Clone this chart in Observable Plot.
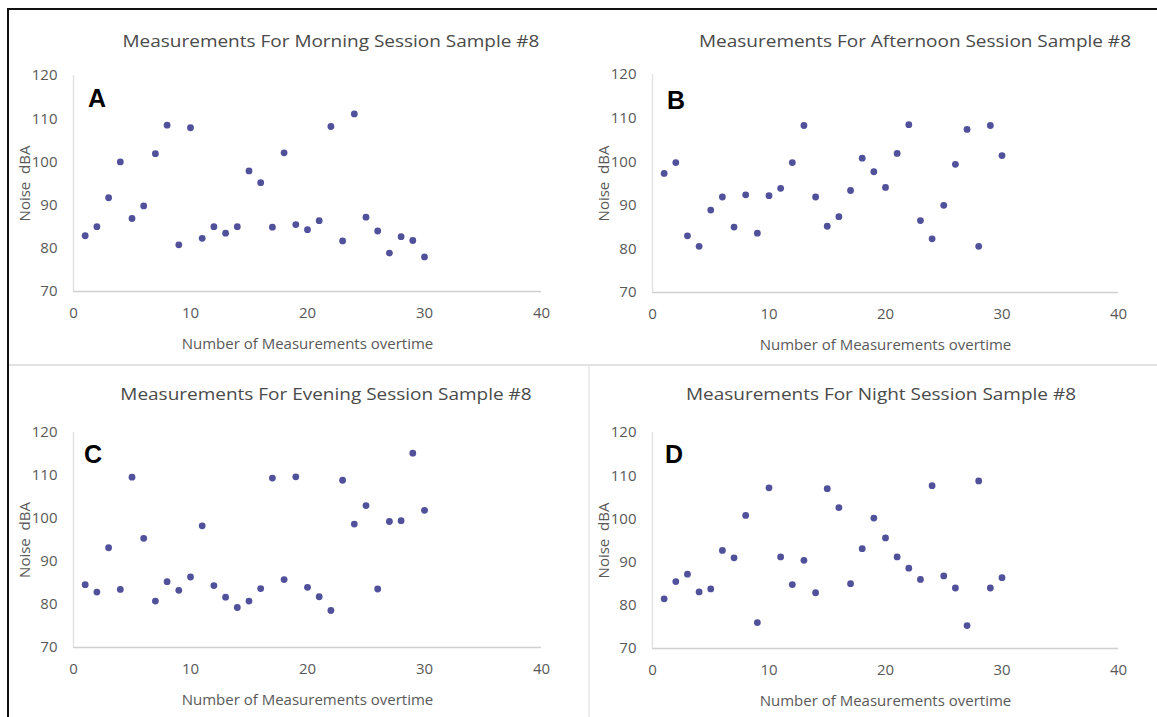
<!DOCTYPE html>
<html>
<head>
<meta charset="utf-8">
<script src="https://cdn.jsdelivr.net/npm/d3@7"></script>
<script src="https://cdn.jsdelivr.net/npm/@observablehq/plot@0.6"></script>
<style>
  html, body { margin: 0; padding: 0; background: #fff; }
  #root { position: relative; width: 1157px; height: 717px; overflow: hidden; background: #fff; font-family: "Open Sans", sans-serif; }
  .panel { position: absolute; }
  .title { position: absolute; transform: translate(-50%, -50%) scaleX(1.15); white-space: nowrap; font-size: 16.5px; color: #4a4a4a; font-family: "Open Sans", sans-serif; }
  .letter { position: absolute; font-family: "Liberation Sans", Arial, sans-serif; font-weight: bold; font-size: 25px; color: #000; line-height: 1; }
  .line { position: absolute; }
</style>
</head>
<body>
<div id="root"></div>
<script>
// Measurement index (x) shared by all panels
const measurement = [1,2,3,4,5,6,7,8,9,10,11,12,13,14,15,16,17,18,19,20,21,22,23,24,25,26,27,28,29,30];

// Noise (dBA) per session
const morning   = [82.9,85.0,91.7,100.0,86.9,89.8,101.9,108.5,80.8,107.9,82.3,85.0,83.5,85.0,97.9,95.2,84.9,102.1,85.5,84.3,86.4,108.2,81.7,111.1,87.2,84.0,78.9,82.7,81.8,78.0];
const afternoon = [97.3,99.8,83.0,80.6,88.9,91.9,85.0,92.4,83.6,92.2,93.9,99.8,108.3,91.9,85.2,87.4,93.4,100.8,97.7,94.1,101.9,108.5,86.5,82.3,90.0,99.4,107.4,80.6,108.3,101.4];
const evening   = [84.6,82.9,93.2,83.5,109.6,95.4,80.8,85.3,83.3,86.4,98.3,84.4,81.7,79.3,80.8,83.7,109.4,85.8,109.7,84.0,81.8,78.6,108.9,98.7,103.0,83.6,99.3,99.5,115.2,101.9];
const night     = [81.5,85.5,87.2,83.1,83.8,92.7,91.0,100.8,76.0,107.2,91.2,84.8,90.4,82.9,107.0,102.6,85.0,93.1,100.2,95.6,91.2,88.6,86.0,107.7,86.8,84.0,75.3,108.8,84.0,86.4];

const sessionTitles = [
  "Measurements For Morning Session Sample #8",
  "Measurements For Afternoon Session Sample #8",
  "Measurements For Evening Session Sample #8",
  "Measurements For Night Session Sample #8"
];
const panelLetters = ["A", "B", "C", "D"];
const xTicks = [0, 10, 20, 30, 40];
const yTicks = [70, 80, 90, 100, 110, 120];
const xLabel = "Number of Measurements overtime";
const yLabel = "Noise  dBA";

const root = document.getElementById("root");

function addLine(css) {
  const d = document.createElement("div");
  d.className = "line";
  Object.assign(d.style, css);
  root.appendChild(d);
}
// frame and separators
addLine({left: "7px", top: "8px", width: "2px", height: "709px", background: "#111"});
addLine({left: "7px", top: "8px", width: "1150px", height: "2px", background: "#111"});
addLine({left: "9px", top: "364px", width: "1148px", height: "2px", background: "#e2e2e2"});
addLine({left: "588px", top: "366px", width: "2px", height: "351px", background: "#ececec"});

const layouts = [
  {left: 0,   top: 50,  width: 580, height: 320, mL: 73, mR: 39, mT: 25, mB: 79, tx: 331, ty: 40,  lx: 88,  ly: 86},
  {left: 580, top: 50,  width: 577, height: 320, mL: 72, mR: 39, mT: 24, mB: 78, tx: 915, ty: 40,  lx: 667, ly: 88},
  {left: 0,   top: 405, width: 580, height: 312, mL: 73, mR: 39, mT: 27, mB: 70, tx: 326, ty: 393, lx: 84,  ly: 442},
  {left: 580, top: 405, width: 577, height: 312, mL: 72, mR: 39, mT: 27, mB: 69, tx: 881, ty: 393, lx: 665, ly: 442}
];

const series = [morning, afternoon, evening, night];

series.forEach((vals, i) => {
  const L = layouts[i];
  const data = measurement.map((m, j) => ({m, v: vals[j]}));
  const chart = Plot.plot({
    width: L.width,
    height: L.height,
    marginLeft: L.mL,
    marginRight: L.mR,
    marginTop: L.mT,
    marginBottom: L.mB,
    style: {fontFamily: "Open Sans, sans-serif", fontSize: "15px", color: "#595959", background: "transparent", overflow: "visible"},
    x: {domain: [0, 40], ticks: xTicks, tickSize: 0, tickPadding: 16, label: xLabel, labelAnchor: "center", labelOffset: 57, labelArrow: "none"},
    y: {domain: [70, 120], ticks: yTicks, tickSize: 0, tickPadding: 16, label: yLabel, labelAnchor: "center", labelOffset: 54, labelArrow: "none"},
    marks: [
      Plot.ruleY([70], {stroke: "#d0d0d0", strokeWidth: 1.5}),
      Plot.ruleX([0], {stroke: "#e3e3e3", strokeWidth: 1.5}),
      Plot.dot(data, {x: "m", y: "v", r: 3.4, fill: "#50519a", stroke: "none"})
    ]
  });
  const wrap = document.createElement("div");
  wrap.className = "panel";
  wrap.style.left = L.left + "px";
  wrap.style.top = L.top + "px";
  wrap.appendChild(chart);
  root.appendChild(wrap);

  const t = document.createElement("div");
  t.className = "title";
  t.style.left = L.tx + "px";
  t.style.top = L.ty + "px";
  t.textContent = sessionTitles[i];
  root.appendChild(t);

  const l = document.createElement("div");
  l.className = "letter";
  l.style.left = L.lx + "px";
  l.style.top = L.ly + "px";
  l.textContent = panelLetters[i];
  root.appendChild(l);
});
</script>
</body>
</html>
